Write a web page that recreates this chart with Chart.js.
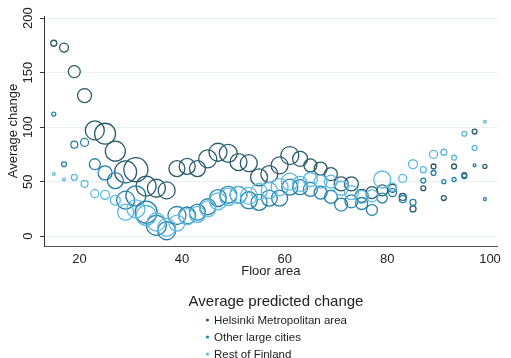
<!DOCTYPE html>
<html>
<head>
<meta charset="utf-8">
<script src="https://cdn.jsdelivr.net/npm/chart.js@4/dist/chart.umd.min.js"></script>
<style>
  html, body { margin: 0; padding: 0; background: #fff; }
  #wrap { width: 511px; height: 358px; }
</style>
</head>
<body>
<div id="wrap"><canvas id="chart"></canvas></div>
<script>
// floor area (m2), one bubble per series at each value
const floorArea = [15, 17, 19, 21, 23, 25, 27, 29, 31, 33, 35, 37, 39, 41, 43, 45, 47, 49, 51, 53, 55,
  57, 59, 61, 63, 65, 67, 69, 71, 73, 75, 77, 79, 81, 83, 85, 87, 89, 91, 93, 95, 97, 99];

const seriesNames = ["Helsinki Metropolitan area", "Other large cities", "Rest of Finland"];

// average predicted change
const helsinki = [177, 173, 151, 129, 97, 94, 78, 59, 61, 46, 44, 42, 62, 64, 62, 71, 77, 76, 68, 67, 54,
  57, 65, 74, 71, 65, 62, 57, 48, 48, 37, 40, 42, 44, 36, 25, 44, 64, 35, 64, 56, 96, 64];
const otherCities = [112, 66, 84, 86, 66, 58, 51, 33, 37, 22, 10, 5, 19, 19, 22, 27, 35, 38, 38, 33, 31,
  35, 35, 45, 45, 43, 40, 36, 29, 32, 30, 24, 35, 40, 34, 31, 51, 58, 50, 52, 55, 65, 34];
const restOfFinland = [57, 52, 54, 48, 39, 38, 33, 22, 25, 19, 13, 8, 12, 18, 20, 25, 32, 36, 38, 37, 41,
  42, 45, 50, 48, 52, 50, 50, 44, 40, 36, 37, 52, 45, 53, 66, 61, 75, 77, 72, 94, 81, 105];

// bubble weights (number of observations, relative)
const helsinkiWeight = [9, 20, 36, 49, 90, 110, 100, 121, 144, 100, 81, 72, 64, 64, 64, 81, 81, 81, 72, 72, 72,
  72, 72, 81, 56, 42, 42, 42, 49, 49, 42, 36, 30, 16, 12, 9, 6, 6, 6, 6, 6, 6, 4];
const otherWeight = [4, 6, 12, 16, 30, 49, 64, 81, 100, 121, 100, 81, 81, 72, 64, 64, 72, 72, 72, 72, 64,
  64, 64, 64, 56, 49, 42, 42, 42, 42, 36, 30, 25, 16, 12, 9, 6, 6, 4, 4, 6, 2, 2];
const restWeight = [2, 2, 9, 12, 16, 20, 25, 64, 81, 100, 81, 81, 64, 64, 64, 64, 72, 72, 72, 72, 64,
  64, 72, 72, 56, 49, 42, 42, 49, 49, 42, 36, 72, 16, 16, 20, 9, 16, 9, 6, 6, 6, 2];

const colors = ["#2a5b6c", "#2680a8", "#5cb9df"];

function bubbles(values, weights) {
  return floorArea.map((x, i) => ({ x: x, y: values[i], r: Math.sqrt(weights[i]) }));
}

const FONT = "'Liberation Sans', Arial, Helvetica, sans-serif";

// stata-like legend below the axis title
const legendBelow = {
  id: "legendBelow",
  afterDraw(chart) {
    const ctx = chart.ctx;
    ctx.save();
    ctx.fillStyle = "#222";
    ctx.textAlign = "center";
    ctx.textBaseline = "middle";
    ctx.font = "15px " + FONT;
    ctx.fillText("Average predicted change", 276, 302);
    ctx.textAlign = "left";
    ctx.font = "11.5px " + FONT;
    chart.data.datasets.forEach((ds, i) => {
      const y = 320 + i * 17;
      ctx.beginPath();
      ctx.arc(207.5, y, 1.6, 0, Math.PI * 2);
      ctx.fillStyle = colors[i];
      ctx.fill();
      ctx.fillStyle = "#222";
      ctx.fillText(ds.label, 214, y + 0.5);
    });
    ctx.restore();
  }
};

new Chart(document.getElementById("chart"), {
  type: "bubble",
  data: {
    datasets: [
      { label: seriesNames[0], data: bubbles(helsinki, helsinkiWeight), borderColor: colors[0], order: 3 },
      { label: seriesNames[1], data: bubbles(otherCities, otherWeight), borderColor: colors[1], order: 2 },
      { label: seriesNames[2], data: bubbles(restOfFinland, restWeight), borderColor: colors[2], order: 1 }
    ].map(ds => Object.assign(ds, {
      backgroundColor: "rgba(0,0,0,0)",
      borderWidth: 1.3,
      hoverRadius: 0
    }))
  },
  options: {
    responsive: true,
    maintainAspectRatio: false,
    animation: false,
    layout: { padding: { left: 0, right: 5, top: 16, bottom: 72 } },
    plugins: {
      legend: { display: false },
      tooltip: { enabled: false }
    },
    scales: {
      x: {
        type: "linear",
        min: 13.1,
        max: 101.5,
        afterFit: s => { s.height = 40; },
        border: { color: "#555", width: 1 },
        grid: { display: false, drawOnChartArea: false, drawTicks: true, tickLength: 4, tickColor: "#555" },
        ticks: {
          color: "#222",
          font: { family: FONT, size: 13 },
          padding: 2
        },
        afterBuildTicks: s => { s.ticks = [20, 40, 60, 80, 100].map(v => ({ value: v })); },
        title: {
          display: true,
          text: "Floor area",
          color: "#222",
          font: { family: FONT, size: 13 },
          padding: { top: 0, bottom: 7 }
        }
      },
      y: {
        type: "linear",
        min: -9,
        max: 202,
        afterFit: s => { s.width = 44; },
        afterBuildTicks: s => { s.ticks = [0, 50, 100, 150, 200].map(v => ({ value: v })); },
        border: { color: "#333", width: 1 },
        grid: { color: "#e9f1f3", lineWidth: 1, tickLength: 4, tickColor: "#333" },
        ticks: {
          color: "#222",
          font: { family: FONT, size: 13 },
          minRotation: 90,
          maxRotation: 90,
          crossAlign: "center",
          padding: 1
        },
        title: {
          display: true,
          text: "Average change",
          color: "#222",
          font: { family: FONT, size: 13 },
          padding: { top: 6, bottom: 0 }
        }
      }
    }
  },
  plugins: [legendBelow]
});
</script>
</body>
</html>
